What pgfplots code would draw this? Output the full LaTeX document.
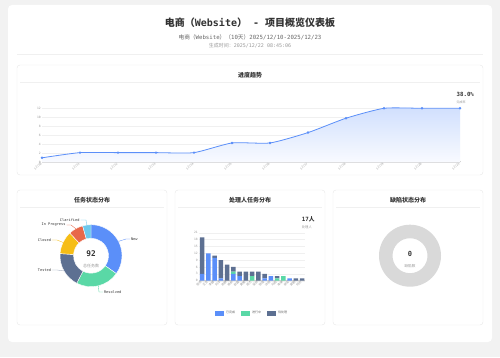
\documentclass[border=0pt]{standalone}
\usepackage{fontspec}
\usepackage{pgfplots}
\usepackage{pgfplotstable}
\pgfplotsset{compat=1.18}
\usetikzlibrary{calc}
\setmainfont{DejaVu Sans Mono}
\newfontfamily\cjk{Noto Sans CJK SC}
\definecolor{bgc}{HTML}{F2F2F2}
\definecolor{cBlue}{HTML}{5B8FF9}
\definecolor{cGreen}{HTML}{5AD8A6}
\definecolor{cSlate}{HTML}{5D7092}
\definecolor{cYellow}{HTML}{F6BD16}
\definecolor{cRed}{HTML}{E8684A}
\definecolor{cCyan}{HTML}{6DC8EC}
\definecolor{cardline}{HTML}{E8E8E8}
\definecolor{sepline}{HTML}{F0F0F0}
\definecolor{txt}{HTML}{333333}
\definecolor{txt2}{HTML}{666666}
\definecolor{txt3}{HTML}{999999}
\definecolor{gridc}{HTML}{F0F0F0}
\definecolor{axc}{HTML}{D0D0D0}
\definecolor{ringc}{HTML}{D9D9D9}
\newcommand\fs[1]{\fontsize{#1}{#1}\selectfont}

\pgfplotstableread{
x v
0 1
1 2.15
2 2.15
3 2.15
4 2.15
5 4.3
6 4.3
7 6.6
8 9.8
9 12
10 12
11 12
}\trend

\pgfplotstableread{
x done doing todo
0 3 0 16
1 12 0 0
2 10 0 1
3 1 0 8
4 0 0 7
5 3 1 2
6 2 0 2
7 0 0 4
8 0 2 2
9 0 0 4
10 1 0 2
11 2 0 0
12 0 1 1
13 0 2 0
14 1 0 0
15 0 0 1
16 0 0 1
}\people

% task status counts (clockwise from top)
\def\nNew{32}\def\nRes{21}\def\nTes{17}\def\nClo{11}\def\nInp{7}\def\nCla{4}
\def\nTot{92}

\newcommand\seg[3]{%
  \fill[#1, draw=white, line width=0.4pt]
   ($(axis cs:0,0)+(#2:31pt)$) arc[start angle=#2, end angle=#3, radius=31pt]
   -- ($(axis cs:0,0)+(#3:17.5pt)$) arc[start angle=#3, end angle=#2, radius=17.5pt] -- cycle;}

\begin{document}
\begin{tikzpicture}[x=1pt,y=1pt]
\pgfmathsetmacro\aA{90}
\pgfmathsetmacro\aB{\aA-360*\nNew/\nTot}
\pgfmathsetmacro\aC{\aB-360*\nRes/\nTot}
\pgfmathsetmacro\aD{\aC-360*\nTes/\nTot}
\pgfmathsetmacro\aE{\aD-360*\nClo/\nTot}
\pgfmathsetmacro\aF{\aE-360*\nInp/\nTot}
\pgfmathsetmacro\aG{\aF-360*\nCla/\nTot}

% backgrounds
\fill[bgc] (0,0) rectangle (500,357);
\fill[white, rounded corners=4pt] (8,352) rectangle (492,15);

% header
\node[font=\bfseries\fs{10}, text=txt] at (250,334) {{\cjk 电商（}Website{\cjk ）} - {\cjk 项目概览仪表板}};
\node[font=\fs{5.7}, text=txt2] at (250,319.7) {{\cjk 电商（}Website{\cjk ）（}10{\cjk 天）}2025/12/10-2025/12/23};
\node[font=\fs{5}, text=txt3] at (250,311) {{\cjk 生成时间：}2025/12/22 08:45:06};
\draw[sepline, line width=0.6pt] (17,302.7) -- (483,302.7);

% cards
\draw[cardline, fill=white, rounded corners=3pt, line width=0.4pt] (17,292) rectangle (483,182);
\draw[cardline, fill=white, rounded corners=3pt, line width=0.4pt] (17,167) rectangle (167,32);
\draw[cardline, fill=white, rounded corners=3pt, line width=0.4pt] (175,167) rectangle (325,32);
\draw[cardline, fill=white, rounded corners=3pt, line width=0.4pt] (333,167) rectangle (483,32);

% card titles
\node[font=\cjk\bfseries\fs{6}, text=txt] at (250,281.3) {进度趋势};
\draw[sepline, line width=0.5pt] (20,274.3) -- (480,274.3);
\node[font=\cjk\bfseries\fs{6}, text=txt] at (92,157) {任务状态分布};
\draw[sepline, line width=0.5pt] (20,149.7) -- (164,149.7);
\node[font=\cjk\bfseries\fs{6}, text=txt] at (250,157) {处理人任务分布};
\draw[sepline, line width=0.5pt] (178,149.7) -- (322,149.7);
\node[font=\cjk\bfseries\fs{6}, text=txt] at (408,157) {缺陷状态分布};
\draw[sepline, line width=0.5pt] (336,149.7) -- (480,149.7);

% KPI texts
\node[anchor=west, font=\bfseries\fs{5.7}, text=txt, inner sep=0] at (456.5,262.5) {38.0\%};
\node[anchor=west, font=\cjk\fs{3}, text=txt3, inner sep=0] at (456.5,254.3) {完成率};
\node[anchor=west, font=\bfseries\fs{5.8}, text=txt, inner sep=0] at (301.7,138) {17{\cjk 人}};
\node[anchor=west, font=\cjk\fs{3.3}, text=txt3, inner sep=0] at (301.7,129.7) {处理人};

% trend line chart
\begin{axis}[at={(42pt,194.7pt)}, anchor=south west, scale only axis,
  width=418pt, height=54pt,
  xmin=0, xmax=11, ymin=0, ymax=12,
  ytick={0,2,...,12}, xtick={0,...,11},
  xticklabels={12/10,12/11,12/12,12/13,12/14,12/15,12/16,12/17,12/18,12/19,12/20,12/21},
  axis lines*=left,
  x axis line style={draw=axc, line width=0.8pt},
  y axis line style={draw=none},
  ytick style={draw=none},
  xtick style={draw=axc, line width=0.3pt},
  major tick length=1.5pt,
  ymajorgrids, grid style={gridc, line width=0.4pt},
  tick label style={font=\fs{3}, text=txt3},
  /pgf/number format/assume math mode=true,
  xticklabel style={rotate=45, anchor=east, inner sep=1pt},
  yticklabel style={inner sep=1pt},
  clip=false]
\addplot[draw=none, top color=cBlue!28, bottom color=cBlue!4, smooth, tension=0.35] table[x=x,y=v]{\trend} \closedcycle;
\addplot[cBlue, line width=0.8pt, smooth, tension=0.35, mark=*, mark size=0.8pt, mark options={fill=cBlue}] table[x=x,y=v]{\trend};
\end{axis}

% assignee stacked bar chart
\begin{axis}[at={(198.9pt,76.3pt)}, anchor=south west, scale only axis,
  width=106.25pt, height=48pt,
  xmin=-0.5, xmax=16.5, ymin=0, ymax=21,
  ytick={0,3,...,21}, xtick={0,...,16},
  xticklabels={张伟,王芳,李娜,刘洋,陈静,杨帆,赵磊,黄敏,周杰,吴婷,徐强,孙丽,马超,朱琳,胡军,郭鹏,何欣},
  ybar stacked, bar width=4.5pt,
  axis lines*=left,
  x axis line style={draw=axc, line width=0.6pt},
  y axis line style={draw=none},
  ytick style={draw=none},
  xtick style={draw=axc, line width=0.3pt},
  major tick length=1.2pt,
  ymajorgrids, grid style={gridc, line width=0.4pt},
  tick label style={font=\fs{3}, text=txt3},
  /pgf/number format/assume math mode=true,
  xticklabel style={font=\cjk\fs{3}, rotate=45, anchor=east, inner sep=1pt},
  yticklabel style={inner sep=1pt},
  legend style={at={(0.5,-0.673)}, anchor=center, draw=none, fill=none,
    legend columns=3, font=\cjk\fs{3}, text=txt2,
    /tikz/every even column/.append style={column sep=4pt}},
  legend image code/.code={\fill[#1] (0pt,-2.5pt) rectangle (9pt,2.5pt);},
  clip=false]
\addplot[fill=cBlue, draw=none] table[x=x,y=done]{\people};
\addplot[fill=cGreen, draw=none] table[x=x,y=doing]{\people};
\addplot[fill=cSlate, draw=none] table[x=x,y=todo]{\people};
\legend{已完成,进行中,待处理}
\end{axis}

% task status donut
\begin{axis}[at={(91pt,101.3pt)}, anchor=center, scale only axis,
  width=100pt, height=100pt, xmin=-50, xmax=50, ymin=-50, ymax=50,
  hide axis, clip=false]
\addplot[draw=none, forget plot] coordinates {(0,0)};
\seg{cBlue}{\aA}{\aB}
\seg{cGreen}{\aB}{\aC}
\seg{cSlate}{\aC}{\aD}
\seg{cYellow}{\aD}{\aE}
\seg{cRed}{\aE}{\aF}
\seg{cCyan}{\aF}{\aG}
\draw[cBlue, line width=0.35pt] (axis cs:27.5,14.3) -- (axis cs:35,16.7) -- (axis cs:39,16.7);
\node[anchor=west, font=\fs{3.6}, text=txt, inner sep=0.5pt] at (axis cs:39.3,16.7) {New};
\draw[cGreen, line width=0.35pt] (axis cs:7.3,-30.1) -- (axis cs:8,-36.3) -- (axis cs:12,-36.3);
\node[anchor=west, font=\fs{3.6}, text=txt, inner sep=0.5pt] at (axis cs:12.3,-36.3) {Resolved};
\draw[cSlate!60, line width=0.35pt] (axis cs:-27,-15.2) -- (axis cs:-34,-14.3) -- (axis cs:-39,-14.3);
\node[anchor=east, font=\fs{3.6}, text=txt, inner sep=0.5pt] at (axis cs:-39.3,-14.3) {Tested};
\draw[cYellow, line width=0.35pt] (axis cs:-28,13.3) -- (axis cs:-34,15.7) -- (axis cs:-39,15.7);
\node[anchor=east, font=\fs{3.6}, text=txt, inner sep=0.5pt] at (axis cs:-39.3,15.7) {Closed};
\draw[cRed, line width=0.35pt] (axis cs:-15.2,27) -- (axis cs:-20,30.7) -- (axis cs:-24.5,30.7);
\node[anchor=east, font=\fs{3.6}, text=txt, inner sep=0.5pt] at (axis cs:-24.8,30.7) {In Progress};
\draw[cCyan, line width=0.35pt] (axis cs:-4.2,30.7) -- (axis cs:-5,35.7) -- (axis cs:-10.5,35.7);
\node[anchor=east, font=\fs{3.6}, text=txt, inner sep=0.5pt] at (axis cs:-10.8,35.7) {Clarified};
\node[font=\bfseries\fs{7.8}, text=txt] at (axis cs:0,1.7) {92};
\node[font=\cjk\fs{4}, text=txt3] at (axis cs:0,-10.3) {总任务数};
\end{axis}

% defect donut
\begin{axis}[at={(410pt,101.3pt)}, anchor=center, scale only axis,
  width=100pt, height=100pt, xmin=-50, xmax=50, ymin=-50, ymax=50,
  hide axis, clip=false]
\addplot[draw=none, forget plot] coordinates {(0,0)};
\fill[ringc, even odd rule] (axis cs:0,0) circle[radius=31pt] (axis cs:0,0) circle[radius=17.5pt];
\node[font=\bfseries\fs{7}, text=txt] at (axis cs:0,1.7) {0};
\node[font=\cjk\fs{3.6}, text=txt3] at (axis cs:0,-10.3) {缺陷数};
\end{axis}

\pgfresetboundingbox
\path (0,0) rectangle (500,357);
\end{tikzpicture}
\end{document}
